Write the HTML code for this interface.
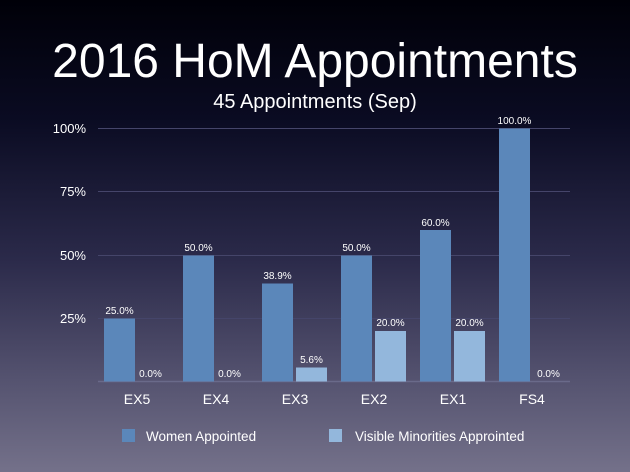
<!DOCTYPE html>
<html><head><style>
html,body{margin:0;padding:0}
body{width:630px;height:472px;overflow:hidden;background:linear-gradient(to bottom,#000008 0%,#0a0b22 25%,#2b2a4a 55%,#54526f 80%,#74718a 100%);font-family:"Liberation Sans",sans-serif;}
</style></head><body>
<svg width="630" height="472" xmlns="http://www.w3.org/2000/svg" font-family="Liberation Sans, sans-serif" fill="#fff" style="display:block">
<text x="315" y="77" font-size="48" text-anchor="middle">2016 HoM Appointments</text>
<text x="315" y="108" font-size="20" text-anchor="middle">45 Appointments (Sep)</text>
<g stroke="#45456a" stroke-width="1">
<line x1="98" x2="570" y1="128.5" y2="128.5"/>
<line x1="98" x2="570" y1="191.5" y2="191.5"/>
<line x1="98" x2="570" y1="255.5" y2="255.5"/>
<line x1="98" x2="570" y1="318.5" y2="318.5"/>
</g>
<line x1="98" x2="570" y1="381.5" y2="381.5" stroke="#6a6a8a" stroke-width="1.5"/>
<g font-size="13" text-anchor="end">
<text x="86" y="133">100%</text>
<text x="86" y="196">75%</text>
<text x="86" y="260">50%</text>
<text x="86" y="323">25%</text>
</g>
<g fill="#5b87ba">
<rect x="104" y="318.5" width="31" height="63"/>
<rect x="183" y="255.5" width="31" height="126"/>
<rect x="262" y="283.5" width="31" height="98"/>
<rect x="341" y="255.5" width="31" height="126"/>
<rect x="420" y="230" width="31" height="151.5"/>
<rect x="499" y="128.5" width="31" height="253"/>
</g>
<g fill="#93b7dc">
<rect x="296" y="367.5" width="31" height="14"/>
<rect x="375" y="331" width="31" height="50.5"/>
<rect x="454" y="331" width="31" height="50.5"/>
</g>
<g font-size="10" text-anchor="middle">
<text x="119.5" y="314">25.0%</text>
<text x="150.5" y="377">0.0%</text>
<text x="198.5" y="251">50.0%</text>
<text x="229.5" y="377">0.0%</text>
<text x="277.5" y="279">38.9%</text>
<text x="311.5" y="363">5.6%</text>
<text x="356.5" y="251">50.0%</text>
<text x="390.5" y="326">20.0%</text>
<text x="435.5" y="226">60.0%</text>
<text x="469.5" y="326">20.0%</text>
<text x="514.5" y="124">100.0%</text>
<text x="548.5" y="377">0.0%</text>
</g>
<g font-size="14" text-anchor="middle">
<text x="137" y="404">EX5</text>
<text x="216" y="404">EX4</text>
<text x="295" y="404">EX3</text>
<text x="374" y="404">EX2</text>
<text x="453" y="404">EX1</text>
<text x="532" y="404">FS4</text>
</g>
<rect x="122" y="429" width="13" height="13" fill="#5b87ba"/>
<text x="146" y="441" font-size="13.5">Women Appointed</text>
<rect x="329" y="429" width="13" height="13" fill="#93b7dc"/>
<text x="355" y="441" font-size="13.5">Visible Minorities Approinted</text>
</svg>
</body></html>
